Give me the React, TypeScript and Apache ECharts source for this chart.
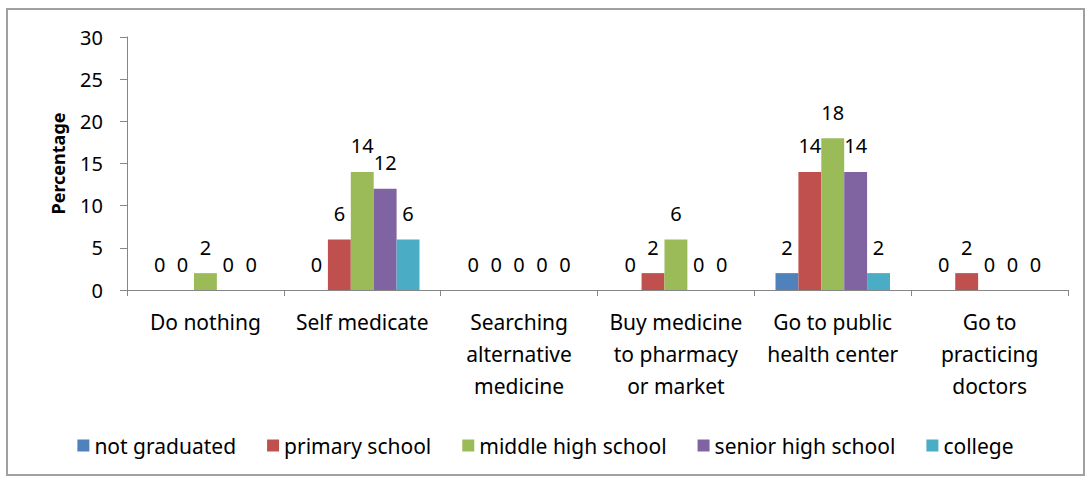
import React, { useEffect, useRef } from "react";
import * as echarts from "echarts";

const categories = [
  "Do nothing",
  "Self medicate",
  "Searching\nalternative\nmedicine",
  "Buy medicine\nto pharmacy\nor market",
  "Go to public\nhealth center",
  "Go to\npracticing\ndoctors",
];
const seriesNames = ["not graduated", "primary school", "middle high school", "senior high school", "college"];
const notGraduated = [0, 0, 0, 0, 2, 0];
const primarySchool = [0, 6, 0, 2, 14, 2];
const middleHighSchool = [2, 14, 0, 6, 18, 0];
const seniorHighSchool = [0, 12, 0, 0, 14, 0];
const college = [0, 6, 0, 0, 2, 0];
const colors = ["#4F81BD", "#C0504D", "#9BBB59", "#8064A2", "#4BACC6"];
const yTicks = [0, 5, 10, 15, 20, 25, 30];

const FONT = "Noto Sans";
const FS = 20;

export default function App() {
  const ref = useRef<HTMLDivElement>(null);
  useEffect(() => {
    const chart = echarts.init(ref.current!, undefined, { renderer: "svg" });
    const values = [notGraduated, primarySchool, middleHighSchool, seniorHighSchool, college];
    chart.setOption({
      animation: false,
      textStyle: { fontFamily: FONT },
      graphic: [
        {
          type: "rect",
          left: 6,
          top: 8,
          shape: { width: 1077, height: 466 },
          style: { fill: "rgba(0,0,0,0)", stroke: "#A0A0A0", lineWidth: 2 },
          silent: true,
          z: 100,
        },
      ],
      legend: {
        data: seriesNames,
        top: 430,
        left: "center",
        itemWidth: 12,
        itemHeight: 12,
        itemGap: 31,
        icon: "rect",
        textStyle: { fontFamily: FONT, fontSize: 21, color: "#000" },
      },
      grid: { left: 127, right: 23, top: 37, bottom: 191 },
      xAxis: {
        type: "category",
        data: categories,
        axisLine: { lineStyle: { color: "#868686" } },
        axisTick: { show: true, length: 6, alignWithLabel: false, lineStyle: { color: "#868686" } },
        axisLabel: {
          color: "#000",
          fontFamily: FONT,
          fontSize: 21,
          lineHeight: 32,
          margin: 16,
          interval: 0,
        },
      },
      yAxis: {
        type: "value",
        min: yTicks[0],
        max: yTicks[yTicks.length - 1],
        interval: 5,
        name: "Percentage",
        nameLocation: "middle",
        nameGap: 60,
        nameTextStyle: { fontFamily: FONT, fontSize: 18, fontWeight: "bold", color: "#000" },
        axisLine: { show: true, lineStyle: { color: "#868686" } },
        axisTick: { show: true, length: 7, lineStyle: { color: "#868686" } },
        splitLine: { show: false },
        axisLabel: { color: "#000", fontFamily: FONT, fontSize: FS, margin: 24 },
      },
      series: seriesNames.map((name, i) => ({
        name,
        type: "bar",
        data: values[i],
        barGap: "0%",
        barCategoryGap: "27%",
        itemStyle: { color: colors[i] },
        label: {
          show: true,
          position: "top",
          distance: 16,
          color: "#000",
          fontFamily: FONT,
          fontSize: FS,
        },
      })),
    });
    return () => chart.dispose();
  }, []);
  return (
    <div
      ref={ref}
      style={{ position: "fixed", left: 0, top: 0, width: 1091, height: 481, background: "#fff" }}
    />
  );
}
